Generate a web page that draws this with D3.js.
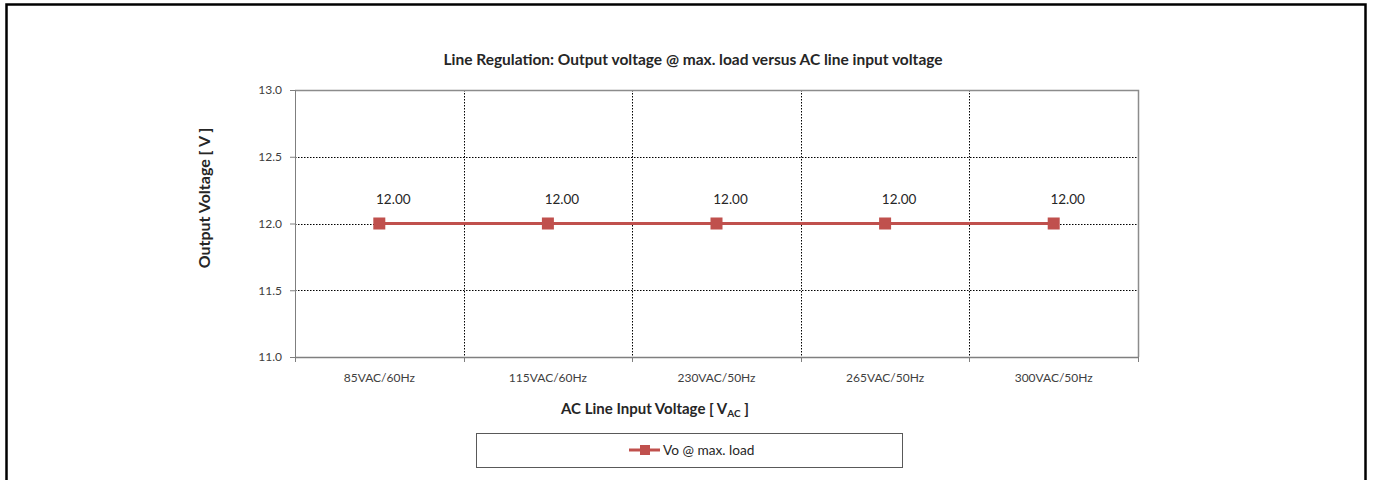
<!DOCTYPE html>
<html>
<head>
<meta charset="utf-8">
<title>Line Regulation</title>
<script src="https://d3js.org/d3.v7.min.js"></script>
<style>
  body { margin: 0; background: #fff; }
  text { font-family: Lato, "Noto Sans", sans-serif; fill: #262626; }
  .grid line { stroke: #000; stroke-width: 1px; stroke-dasharray: 1.5 1.5; }
  .axis path, .axis line { stroke: #7f7f7f; }
  .axis text { font-size: 12px; fill: #404040; }
</style>
</head>
<body>
<script>

// data
var categories = ["85VAC/60Hz", "115VAC/60Hz", "230VAC/50Hz", "265VAC/50Hz", "300VAC/50Hz"];
var vo_values = [12.00, 12.00, 12.00, 12.00, 12.00];
var y_ticks = [11.0, 11.5, 12.0, 12.5, 13.0];
var series_name = "Vo @ max. load";

var outer_width = 1373, outer_height = 480;
var margin = {top: 90, right: 235, bottom: 123, left: 295};
var plot_w = 1138 - margin.left;
var plot_h = 357 - margin.top;
var red = "#c0504d";

var svg = d3.select("body").append("svg")
    .attr("width", outer_width)
    .attr("height", outer_height);

// outer frame of chart
svg.append("rect")
    .attr("x", 6.5).attr("y", 4.5)
    .attr("width", 1359).attr("height", 490)
    .attr("fill", "none").attr("stroke", "#000").attr("stroke-width", 2.5);

var g = svg.append("g")
    .attr("transform", "translate(" + margin.left + "," + margin.top + ")");

var x = d3.scaleBand().domain(categories).range([0, plot_w]);
var y = d3.scaleLinear().domain([11, 13]).range([plot_h, 0]);

// horizontal grid
g.append("g").attr("class", "grid")
  .selectAll("line").data(y_ticks.slice(1, -1)).enter().append("line")
    .attr("x1", 0).attr("x2", plot_w)
    .attr("y1", function(d){ return Math.round(y(d)) + 0.5; })
    .attr("y2", function(d){ return Math.round(y(d)) + 0.5; });

// vertical grid at category boundaries
g.append("g").attr("class", "grid")
  .selectAll("line").data(categories.slice(1)).enter().append("line")
    .attr("x1", function(d){ return Math.round(x(d)) + 0.5; })
    .attr("x2", function(d){ return Math.round(x(d)) + 0.5; })
    .attr("y1", 0).attr("y2", plot_h);

// plot area border (top, right)
g.append("path")
    .attr("d", "M0,0.5H" + (plot_w + 0.5) + "V" + plot_h)
    .attr("fill", "none").attr("stroke", "#8c8c8c").attr("stroke-width", 1.5);

// y axis
g.append("g").attr("class", "axis")
    .call(d3.axisLeft(y).tickValues(y_ticks).tickFormat(d3.format(".1f")).tickSize(5).tickPadding(8))
    .call(function(a){ a.select(".domain").attr("stroke", "#595959"); });

// x axis, ticks at boundaries
var xa = g.append("g").attr("class", "axis")
    .attr("transform", "translate(0," + plot_h + ")")
    .call(d3.axisBottom(x).tickSize(0).tickPadding(16));
xa.select(".domain").attr("stroke", "#595959").attr("stroke-width", 1.5);
xa.selectAll(".bound").data(d3.range(categories.length + 1)).enter().append("line")
    .attr("x1", function(i){ return Math.round(i * x.step()) + 0.5; })
    .attr("x2", function(i){ return Math.round(i * x.step()) + 0.5; })
    .attr("y1", 0).attr("y2", 5)
    .attr("stroke", "#595959");

// series line
var line = d3.line()
    .x(function(d, i){ return x(categories[i]) + x.bandwidth() / 2; })
    .y(function(d){ return y(d); });

g.append("path")
    .datum(vo_values)
    .attr("d", line)
    .attr("fill", "none").attr("stroke", red).attr("stroke-width", 3);

g.selectAll(".pt").data(vo_values).enter().append("rect")
    .attr("x", function(d, i){ return x(categories[i]) + x.bandwidth() / 2 - 6; })
    .attr("y", function(d){ return y(d) - 6; })
    .attr("width", 12).attr("height", 12)
    .attr("fill", red);

g.selectAll(".lbl").data(vo_values).enter().append("text")
    .attr("x", function(d, i){ return x(categories[i]) + x.bandwidth() / 2 + 14; })
    .attr("y", function(d){ return y(d) - 20; })
    .attr("text-anchor", "middle")
    .style("font-size", "13.5px")
    .text(function(d){ return d3.format(".2f")(d); });

// titles
svg.append("text")
    .attr("x", 693).attr("y", 65)
    .attr("text-anchor", "middle")
    .style("font-size", "15.5px").style("font-weight", "bold")
    .text("Line Regulation: Output voltage @ max. load versus AC line input voltage");

var xt = svg.append("text")
    .attr("x", 655).attr("y", 414)
    .attr("text-anchor", "middle")
    .style("font-size", "15px").style("font-weight", "bold");
xt.append("tspan").text("AC Line Input Voltage [ V");
xt.append("tspan").attr("dy", 3).style("font-size", "10px").text("AC");
xt.append("tspan").attr("dy", -3).text(" ]");

svg.append("text")
    .attr("transform", "translate(210,198) rotate(-90)")
    .attr("text-anchor", "middle")
    .style("font-size", "16px").style("font-weight", "bold")
    .text("Output Voltage [ V ]");

// legend
var lg = svg.append("g");
lg.append("rect")
    .attr("x", 476.5).attr("y", 433.5).attr("width", 426).attr("height", 34)
    .attr("fill", "#fff").attr("stroke", "#595959");
lg.append("line")
    .attr("x1", 629).attr("x2", 660).attr("y1", 450).attr("y2", 450)
    .attr("stroke", red).attr("stroke-width", 3);
lg.append("rect")
    .attr("x", 640).attr("y", 445).attr("width", 10).attr("height", 10)
    .attr("fill", red);
lg.append("text")
    .attr("x", 663).attr("y", 455)
    .style("font-size", "13.7px")
    .text(series_name);

</script>
</body>
</html>
